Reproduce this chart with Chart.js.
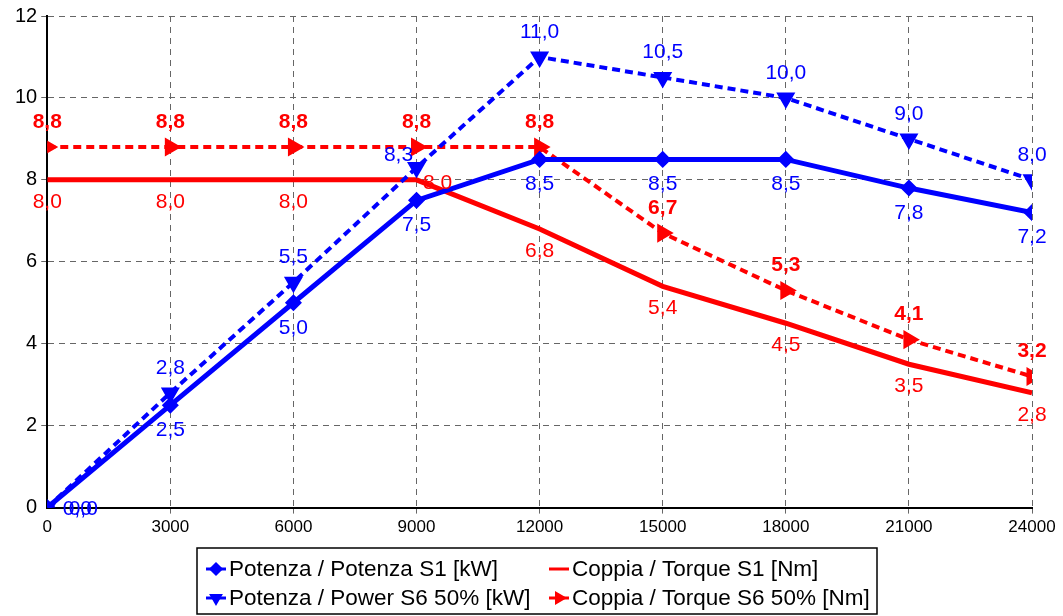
<!DOCTYPE html>
<html>
<head>
<meta charset="utf-8">
<script src="https://cdn.jsdelivr.net/npm/chart.js@4.4.1/dist/chart.umd.min.js"></script>
<style>
  html, body { margin: 0; padding: 0; background: #fff; }
  #wrap { width: 1063px; height: 616px; }
</style>
</head>
<body>
<div id="wrap"><canvas id="grafico"></canvas></div>
<script>
const giri = [0, 3000, 6000, 9000, 12000, 15000, 18000, 21000, 24000];
const potenzaS1 = [0.0, 2.5, 5.0, 7.5, 8.5, 8.5, 8.5, 7.8, 7.2];
const coppiaS1 = [8.0, 8.0, 8.0, 8.0, 6.8, 5.4, 4.5, 3.5, 2.8];
const potenzaS6 = [0.0, 2.8, 5.5, 8.3, 11.0, 10.5, 10.0, 9.0, 8.0];
const coppiaS6 = [8.8, 8.8, 8.8, 8.8, 8.8, 6.7, 5.3, 4.1, 3.2];
const yTicks = [0, 2, 4, 6, 8, 10, 12];

const BLU = '#0000ff';
const ROSSO = '#ff0000';
const FONT = 'Liberation Sans, Arial, sans-serif';

function punti(valori) {
  return giri.map((g, i) => ({ x: g, y: valori[i] }));
}

function virgola(v) {
  return v.toFixed(1).replace('.', ',');
}

// etichette dei valori (stile Excel)
const etichette = {
  id: 'etichette',
  afterDatasetsDraw(chart) {
    const ctx = chart.ctx;
    chart.data.datasets.forEach((ds, di) => {
      const meta = chart.getDatasetMeta(di);
      const opt = ds.etichetta;
      ctx.save();
      ctx.fillStyle = ds.borderColor;
      ctx.font = (opt.bold ? 'bold ' : '') + '21px ' + FONT;
      ctx.textAlign = 'center';
      ctx.textBaseline = 'middle';
      meta.data.forEach((p, i) => {
        let dx = 0, dy = opt.dy;
        if (i === 0 && opt.dx0 !== undefined) { dx = opt.dx0; dy = 2; }
        if (opt.sposta && opt.sposta[i]) { dx = opt.sposta[i][0]; dy = opt.sposta[i][1]; }
        ctx.fillText(virgola(ds.data[i].y), p.x + dx, p.y + dy);
      });
      ctx.restore();
    });
  }
};

// legenda con riquadro
const legenda = {
  id: 'legenda',
  afterDraw(chart) {
    const ctx = chart.ctx;
    const ds = chart.data.datasets;
    const box = { x: 197, y: 548, w: 680, h: 66 };
    ctx.save();
    ctx.strokeStyle = '#000';
    ctx.lineWidth = 1.5;
    ctx.strokeRect(box.x, box.y, box.w, box.h);
    const col = [206, 549];
    const riga = [569, 598];
    ds.forEach((d, k) => {
      const x = col[k % 2];
      const y = riga[Math.floor(k / 2)];
      ctx.strokeStyle = d.borderColor;
      ctx.fillStyle = d.borderColor;
      ctx.lineWidth = 3;
      ctx.setLineDash([]);
      ctx.beginPath();
      ctx.moveTo(x, y);
      ctx.lineTo(x + 20, y);
      ctx.stroke();
      if (d.pointStyle !== false && d.pointRadius > 0) {
        ctx.save();
        ctx.translate(x + 10, y);
        ctx.rotate((d.pointRotation || 0) * Math.PI / 180);
        Chart.helpers.drawPoint(ctx, { pointStyle: d.pointStyle, radius: 5, rotation: 0, borderWidth: 1 }, 0, 0);
        ctx.fill();
        ctx.restore();
      }
      ctx.fillStyle = '#000';
      ctx.font = '22.5px ' + FONT;
      ctx.textAlign = 'left';
      ctx.textBaseline = 'middle';
      ctx.fillText(d.label, x + 23, y + 1);
    });
    ctx.restore();
  }
};

// griglia tratteggiata, tranne sugli assi
const colGriglia = ctx => (ctx.tick && ctx.tick.value === 0) ? 'rgba(0,0,0,0)' : '#666';

new Chart(document.getElementById('grafico'), {
  type: 'line',
  data: {
    datasets: [
      {
        label: 'Potenza / Potenza S1 [kW]',
        data: punti(potenzaS1),
        borderColor: BLU,
        backgroundColor: BLU,
        borderWidth: 5,
        pointStyle: 'rectRot',
        pointRadius: 5,
        etichetta: { dy: 25, dx0: 36 },
        order: 1
      },
      {
        label: 'Coppia / Torque S1 [Nm]',
        data: punti(coppiaS1),
        borderColor: ROSSO,
        backgroundColor: ROSSO,
        borderWidth: 5,
        pointRadius: 0,
        pointStyle: false,
        etichetta: { dy: 22, sposta: { 3: [21, 3] } },
        order: 2
      },
      {
        label: 'Potenza / Power S6 50% [kW]',
        data: punti(potenzaS6),
        borderColor: BLU,
        backgroundColor: BLU,
        borderWidth: 4,
        borderDash: [8, 5],
        pointStyle: 'triangle',
        pointRotation: 180,
        pointRadius: 7,
        etichetta: { dy: -25, dx0: 30, sposta: { 3: [-18, -12] } },
        order: 0
      },
      {
        label: 'Coppia / Torque S6 50% [Nm]',
        data: punti(coppiaS6),
        borderColor: ROSSO,
        backgroundColor: ROSSO,
        borderWidth: 4,
        borderDash: [8, 5],
        pointStyle: 'triangle',
        pointRotation: 90,
        pointRadius: 7,
        etichetta: { dy: -25, bold: true },
        order: 3
      }
    ]
  },
  options: {
    responsive: true,
    maintainAspectRatio: false,
    animation: false,
    layout: {
      padding: { left: 11, right: 31, top: 14, bottom: 74 }
    },
    plugins: {
      legend: { display: false },
      tooltip: { enabled: false }
    },
    elements: {
      line: { tension: 0 }
    },
    scales: {
      x: {
        type: 'linear',
        min: 0,
        max: 24000,
        afterBuildTicks(axis) {
          axis.ticks = giri.map(v => ({ value: v }));
        },
        ticks: {
          color: '#000',
          font: { family: FONT, size: 17 },
          padding: 4,
          maxRotation: 0,
          callback: v => String(v)
        },
        grid: { color: colGriglia, lineWidth: 1, tickLength: 6 },
        border: { color: '#000', width: 2, dash: [6, 5] }
      },
      y: {
        min: 0,
        max: 12,
        afterBuildTicks(axis) {
          axis.ticks = yTicks.map(v => ({ value: v }));
        },
        ticks: {
          color: '#000',
          font: { family: FONT, size: 20 },
          padding: 4
        },
        grid: { color: colGriglia, lineWidth: 1, tickLength: 6 },
        border: { color: '#000', width: 2, dash: [6, 5] }
      }
    }
  },
  plugins: [etichette, legenda]
});
</script>
</body>
</html>
